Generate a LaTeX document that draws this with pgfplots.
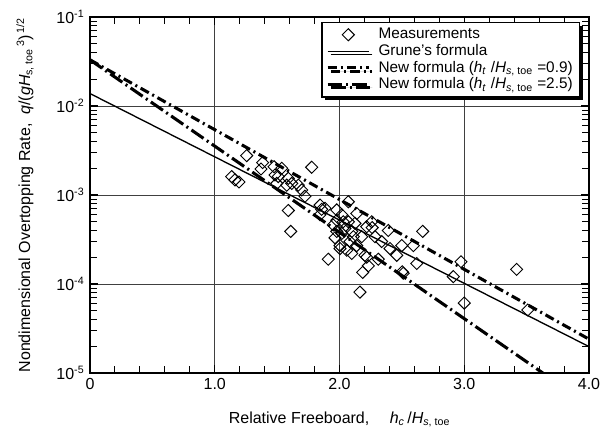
\documentclass[border=0pt,12pt]{standalone}
\usepackage{fontspec}
\setmainfont{Liberation Sans}
\usepackage{pgfplots}
\pgfplotsset{compat=1.18}
\usepackage{pgfplotstable}
\usetikzlibrary{shadows}

\pgfplotsset{
  linelegend/.style={legend image code/.code={\draw[##1] (0pt,0pt) -- (31pt,0pt);}},
  marklegend/.style={legend image code/.code={\draw[##1] plot coordinates {(15.5pt,0pt) (31pt,0pt)};}},
}

\pgfplotstableread{
x y
1.136 1.61e-3
1.162 1.48e-3
1.194 1.40e-3
1.256 2.77e-3
1.384 2.31e-3
1.371 1.96e-3
1.475 2.08e-3
1.483 1.68e-3
1.537 2.00e-3
1.777 2.05e-3
1.509 1.61e-3
1.590 1.54e-3
1.497 1.35e-3
1.577 1.29e-3
1.617 1.35e-3
1.670 1.29e-3
1.697 1.14e-3
1.723 9.7e-4
1.590 6.7e-4
1.609 3.9e-4
1.844 7.7e-4
1.857 6.9e-4
1.884 7.1e-4
1.844 6.0e-4
1.978 6.8e-4
2.071 8.4e-4
2.018 6.0e-4
2.030 5.0e-4
1.978 5.2e-4
1.950 4.6e-4
2.071 5.0e-4
2.138 6.2e-4
2.124 4.8e-4
1.978 3.9e-4
2.044 4.2e-4
1.964 3.3e-4
2.098 3.9e-4
2.111 3.4e-4
2.004 2.7e-4
2.084 3.0e-4
2.138 2.7e-4
2.058 2.4e-4
2.098 2.2e-4
2.178 3.4e-4
1.910 1.9e-4
2.218 4.4e-4
2.258 5.0e-4
2.262 4.3e-4
2.285 3.4e-4
2.338 3.0e-4
2.391 4.0e-4
2.405 2.5e-4
2.459 2.1e-4
2.499 2.7e-4
2.592 2.7e-4
2.667 3.9e-4
2.619 1.7e-4
2.204 2.1e-4
2.311 1.9e-4
2.231 1.6e-4
2.186 1.35e-4
2.503 1.37e-4
2.511 1.32e-4
2.164 8.1e-5
2.912 1.21e-4
2.974 1.78e-4
3.420 1.46e-4
3.000 6.1e-5
3.509 5.1e-5
2.018 3.7e-4
2.004 2.5e-4
2.218 2.0e-4
}\measured

\begin{document}
\begin{tikzpicture}
\begin{axis}[
  scale only axis,
  width=374.25pt, height=267pt,
  xmin=0, xmax=4,
  ymode=log, ymin=1e-5, ymax=1e-1,
  font=\fontsize{12}{14}\selectfont,
  xtick={0,1,2,3,4},
  xticklabels={0,1.0,2.0,3.0,4.0},
  minor x tick num=4,
  ytick={1e-5,1e-4,1e-3,1e-2,1e-1},
  yticklabels={10\textsuperscript{-5},10\textsuperscript{-4},10\textsuperscript{-3},10\textsuperscript{-2},10\textsuperscript{-1}},
  minor ytick={2e-5,3e-5,4e-5,5e-5,6e-5,7e-5,8e-5,9e-5,
               2e-4,3e-4,4e-4,5e-4,6e-4,7e-4,8e-4,9e-4,
               2e-3,3e-3,4e-3,5e-3,6e-3,7e-3,8e-3,9e-3,
               2e-2,3e-2,4e-2,5e-2,6e-2,7e-2,8e-2,9e-2},
  tick align=inside,
  xtick pos=both, ytick pos=both,
  major tick length=6pt, minor tick length=5.5pt,
  tick style={line width=0.8pt, black},
  axis line style={line width=1.6pt},
  grid=major,
  major grid style={line width=0.6pt, black!75},
  xlabel={Relative Freeboard,\quad\ \textit{h}\textsubscript{\textit{c}}\,/\textit{H}\textsubscript{\textit{s}, toe}},
  ylabel={Nondimensional Overtopping Rate,\ \ \textit{q}/(\textit{gH}\textsubscript{s, toe}\textsuperscript{\,3})\textsuperscript{\,1/2}},
  xlabel style={at={(axis description cs:0.5,-0.130)}, anchor=center},
  ylabel style={at={(axis description cs:-0.130,0.5)}, anchor=center},
  legend cell align=left,
  legend style={at={(axis description cs:1,1)}, anchor=north east,
    xshift=-6.75pt, yshift=-3.75pt,
    draw=black, line width=1pt, fill=white,
    drop shadow={shadow xshift=2.5pt, shadow yshift=-2.5pt, fill=black, opacity=1},
    font=\fontsize{11.5}{13.5}\selectfont,
    nodes={inner ysep=1.2pt, inner xsep=2pt},
    inner xsep=3pt, inner ysep=3pt},
  linelegend,
]
\addplot[only marks, mark=square, mark size=3.2pt,
  mark options={rotate=45, line width=0.7pt, black}, marklegend,
  legend image post style={mark repeat=2}]
  table[x=x,y=y] {\measured};
\addlegendentry{\hspace{4pt}Measurements}
\addplot[black, line width=1pt] coordinates {(0,1.38e-2) (4,1.98e-5)};
\addlegendentry{\hspace{4pt}Grune's formula}
\addplot[black, line width=2.3pt, dash pattern=on 7pt off 3pt on 1.5pt off 3pt] coordinates {(0,3.3e-2) (4,2.4e-5)};
\addlegendentry{\hspace{4pt}New formula (\textit{h}\textsubscript{\textit{t}} /\textit{H}\textsubscript{\textit{s}, toe} =0.9)}
\addplot[black, line width=2.3pt, dash pattern=on 11pt off 3pt on 1.5pt off 3pt] coordinates {(0,3.3e-2) (3.63,1e-5)};
\addlegendentry{\hspace{4pt}New formula (\textit{h}\textsubscript{\textit{t}} /\textit{H}\textsubscript{\textit{s}, toe} =2.5)}
\end{axis}
\pgfresetboundingbox
\path ([xshift=-67.5pt,yshift=-49.5pt]current axis.south west) rectangle ([xshift=13.5pt,yshift=12.75pt]current axis.north east);
\end{tikzpicture}
\end{document}
